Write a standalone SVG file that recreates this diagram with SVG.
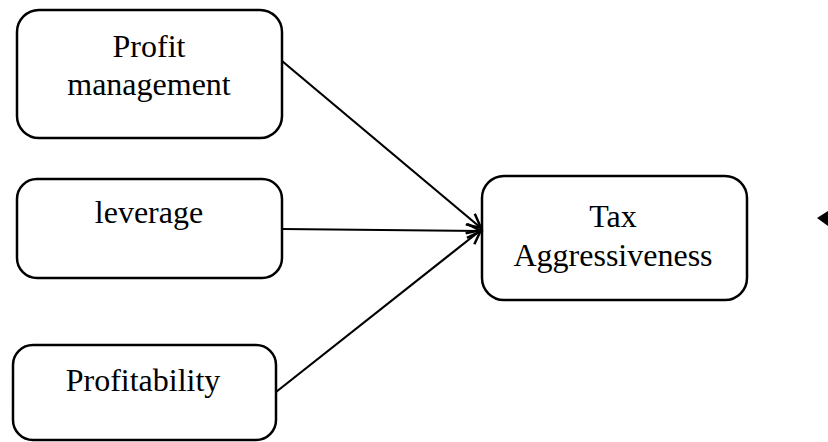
<svg xmlns="http://www.w3.org/2000/svg" width="828" height="442" viewBox="0 0 828 442">
<style>
.box{fill:#fff;stroke:#000;stroke-width:2.5}
.t{font-family:"Liberation Serif","Times New Roman",serif;font-size:32px;fill:#000;text-anchor:middle}
.c{stroke:#000;stroke-width:2.2;fill:none}
</style>
<defs>
<marker id="arr" markerUnits="userSpaceOnUse" markerWidth="20" markerHeight="20" refX="16" refY="8" orient="auto">
<path d="M2,1 L16,8 L2,15" fill="none" stroke="#000" stroke-width="2.5"/>
</marker>
</defs>
<rect width="828" height="442" fill="#fff"/>
<g id="n1"><rect class="box" x="17" y="10" width="265" height="128" rx="22"/>
<text class="t" x="149" y="57">Profit</text><text class="t" x="149" y="95">management</text></g>
<g id="n2"><rect class="box" x="17" y="179" width="265" height="99" rx="20"/>
<text class="t" x="149" y="223">leverage</text></g>
<g id="n3"><rect class="box" x="13" y="345" width="263" height="95" rx="20"/>
<text class="t" x="143" y="391">Profitability</text></g>
<g id="n4"><rect class="box" x="482" y="176" width="265" height="124" rx="22"/>
<text class="t" x="613" y="227">Tax</text><text class="t" x="613" y="266">Aggressiveness</text></g>
<g id="connectors">
<line class="c" x1="282" y1="61" x2="481" y2="228" marker-end="url(#arr)"/>
<line class="c" x1="282" y1="229" x2="481" y2="231" marker-end="url(#arr)"/>
<line class="c" x1="276" y1="392" x2="481" y2="230" marker-end="url(#arr)"/>
<polygon points="817,218 828,211 828,226" fill="#000"/>
</g>
</svg>
